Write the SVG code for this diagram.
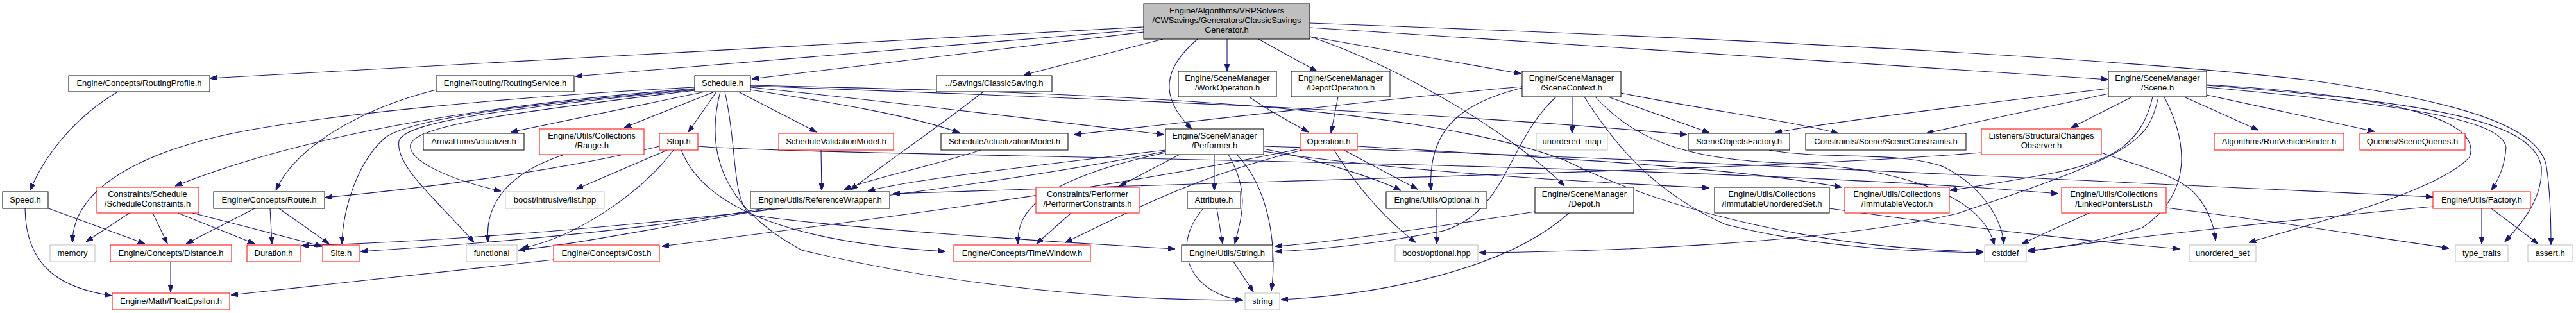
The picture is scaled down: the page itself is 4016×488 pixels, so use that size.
<svg xmlns="http://www.w3.org/2000/svg" width="4016" height="488" viewBox="0 0 4016 488">
<style>
text{font-family:"Liberation Sans",Arial,Helvetica,sans-serif;font-size:13px;text-anchor:middle;fill:#000}
.nd rect{fill:#fff;stroke:#000;stroke-width:1}
.rd rect{fill:#fff;stroke:#ff0000;stroke-width:1}
.gy rect{fill:#fff;stroke:#bfbfbf;stroke-width:1}
.rt rect{fill:#bfbfbf;stroke:#000;stroke-width:1}
#edges path{fill:none;stroke:#191970;stroke-width:1.1;marker-end:url(#ah)}
</style>
<defs>
<marker id="ah" viewBox="0 0 11 8" refX="11" refY="4" markerWidth="11" markerHeight="8" markerUnits="userSpaceOnUse" orient="auto"><path d="M0,0L11,4L0,8z" fill="#191970" stroke="#191970"/></marker>
</defs>
<rect width="4016" height="488" fill="#fff"/>
<g id="edges">
<path d="M1783,42 L327,122"/>
<path d="M1783,46 L897,119"/>
<path d="M1783,50 L1172,123"/>
<path d="M1813,61 L1596,117"/>
<path d="M1913,61 L1913,111"/>
<path d="M1867,61 C1815,105 1805,150 1858,201"/>
<path d="M1962,61 L2053,111"/>
<path d="M2042,57 L2372,115"/>
<path d="M2042,43 L3287,124"/>
<path d="M2042,36 C2700,60 3300,90 3600,125 C3850,160 3960,200 3970,260 C3976,300 3977,340 3977,382"/>
<path d="M2042,57 C2200,110 2370,220 2439,290"/>
<path d="M1099,143 L796,206"/>
<path d="M1114,143 L973,199"/>
<path d="M1117,143 L1073,206"/>
<path d="M1151,143 L1273,206"/>
<path d="M1083,138 C800,160 500,200 273,290"/>
<path d="M1083,136 C800,150 500,180 367,207 C230,235 113,290 113,378"/>
<path d="M1083,139 C800,165 640,185 600,215 C560,250 535,320 533,380"/>
<path d="M1083,140 C780,170 630,190 622,220 C615,260 690,320 739,378"/>
<path d="M1083,141 C800,175 650,195 640,225 C635,250 700,280 781,298"/>
<path d="M1170,136 C1400,160 1650,190 1815,210"/>
<path d="M1170,140 C1300,160 1420,180 1496,207"/>
<path d="M1170,134 C1600,150 2200,170 2630,210"/>
<path d="M1170,133 C1700,145 2200,160 2440,250 C2600,330 2850,390 3092,392"/>
<path d="M1130,143 C1150,230 1140,310 1170,335 C1300,355 1650,378 1832,388"/>
<path d="M1123,143 C1100,230 1120,320 1250,390 C1500,450 1750,468 1936,468"/>
<path d="M1028,228 C900,260 700,290 507,308"/>
<path d="M1040,234 L898,295"/>
<path d="M1050,234 C1000,300 900,370 813,387"/>
<path d="M1062,234 C1100,330 1250,380 1474,392"/>
<path d="M1088,228 C1300,245 2600,250 3209,302"/>
<path d="M880,241 C790,270 755,320 761,378"/>
<path d="M680,140 C560,170 460,230 430,297"/>
<path d="M184,143 C120,180 70,240 47,297"/>
<path d="M73,324 L226,380"/>
<path d="M39,325 C40,420 100,450 174,461"/>
<path d="M202,332 L134,377"/>
<path d="M238,332 L261,380"/>
<path d="M277,332 L397,380"/>
<path d="M300,332 L502,384"/>
<path d="M397,325 L290,380"/>
<path d="M421,325 L424,380"/>
<path d="M435,325 L513,380"/>
<path d="M266,408 L266,455"/>
<path d="M863,405 L360,460"/>
<path d="M1203,325 C1000,360 900,380 808,390"/>
<path d="M1190,325 C1000,360 750,380 562,392"/>
<path d="M1817,236 C1500,300 900,370 470,383"/>
<path d="M2027,232 C1700,300 1300,350 1032,384"/>
<path d="M1280,234 L1281,297"/>
<path d="M1529,234 C1450,260 1350,280 1316,296"/>
<path d="M1533,143 C1460,200 1400,240 1326,296"/>
<path d="M1817,234 C1600,260 1420,280 1353,298"/>
<path d="M3089,238 C2800,262 2200,275 1392,302"/>
<path d="M2373,135 C2200,150 1900,185 1674,210"/>
<path d="M1839,241 L1745,290"/>
<path d="M1893,241 L1893,297"/>
<path d="M1915,241 C1950,300 1935,340 1925,380"/>
<path d="M1928,241 C1985,300 1990,400 1982,453"/>
<path d="M1817,238 C1620,280 1585,330 1587,380"/>
<path d="M1970,232 C2060,250 2150,280 2184,297"/>
<path d="M1970,236 C2200,270 2500,285 2665,293"/>
<path d="M1970,228 C2400,240 3000,270 3793,307"/>
<path d="M1670,332 L1616,380"/>
<path d="M2080,234 C2120,300 2170,350 2207,378"/>
<path d="M2095,234 L2210,295"/>
<path d="M2116,228 C2400,245 2700,260 2871,292"/>
<path d="M2030,234 C1880,270 1780,320 1661,378"/>
<path d="M2086,151 L2075,207"/>
<path d="M1947,151 C1990,180 2020,195 2040,206"/>
<path d="M2451,151 L2451,208"/>
<path d="M2507,151 L2665,207"/>
<path d="M2527,145 C2650,170 2800,190 2866,208"/>
<path d="M2373,137 C2280,160 2225,200 2231,297"/>
<path d="M2426,151 C2350,220 2350,330 2250,360 C2150,380 2050,390 1988,392"/>
<path d="M2487,151 C2560,230 2650,250 2800,255 C2950,262 3090,300 3109,382"/>
<path d="M2470,151 C2520,230 2580,300 2690,350 C2850,390 3000,392 3092,394"/>
<path d="M2393,330 C2200,360 2050,380 1988,384"/>
<path d="M2446,332 C2350,420 2150,460 1997,467"/>
<path d="M1897,325 L1906,380"/>
<path d="M1876,325 C1820,390 1860,460 1938,468"/>
<path d="M1923,408 L1954,455"/>
<path d="M2240,325 L2240,380"/>
<path d="M2758,234 C2850,250 2960,235 3030,260 C3090,290 3120,340 3124,380"/>
<path d="M3276,238 C3320,255 3390,270 3420,300 C3440,320 3452,350 3454,375"/>
<path d="M2852,325 C3100,360 3300,380 3398,388"/>
<path d="M3257,332 L3152,380"/>
<path d="M3377,324 C3550,345 3700,370 3818,387"/>
<path d="M3869,325 L3869,380"/>
<path d="M3884,325 L3957,380"/>
<path d="M3793,322 C3600,340 3300,372 3161,392"/>
<path d="M3287,138 C3100,160 2850,190 2767,207"/>
<path d="M3287,146 C3200,165 3080,190 3003,208"/>
<path d="M3324,151 L3229,199"/>
<path d="M3405,151 L3521,203"/>
<path d="M3440,148 L3702,205"/>
<path d="M3440,136 C3700,160 3900,180 3907,230 C3905,260 3895,280 3884,297"/>
<path d="M3440,132 C3750,150 3870,190 3850,245 C3800,300 3600,350 3506,378"/>
<path d="M3440,133 C3800,160 3950,190 3962,260 C3965,310 3930,350 3905,377"/>
<path d="M3356,151 C3340,220 3300,250 3200,270 C3120,285 3070,292 3040,297"/>
<path d="M3365,151 C3350,220 3330,240 3051,333 C2850,380 2500,392 2306,394"/>
<path d="M3374,151 C3410,220 3420,300 3340,355 C3260,380 3200,388 3161,390"/>
</g>
<g id="n_root" class="rt"><rect x="1783" y="6" width="259" height="55"/><text x="1912.5" y="21">Engine/Algorithms/VRPSolvers</text><text x="1912.5" y="36">/CWSavings/Generators/ClassicSavings</text><text x="1912.5" y="51">Generator.h</text></g>
<g id="n_routingprofile" class="nd"><rect x="107" y="118" width="220" height="25"/><text x="217" y="134">Engine/Concepts/RoutingProfile.h</text></g>
<g id="n_routingservice" class="nd"><rect x="680" y="118" width="215" height="25"/><text x="787.5" y="134">Engine/Routing/RoutingService.h</text></g>
<g id="n_schedule" class="nd"><rect x="1083" y="118" width="87" height="25"/><text x="1126.5" y="134">Schedule.h</text></g>
<g id="n_classicsaving" class="nd"><rect x="1460" y="118" width="180" height="25"/><text x="1550" y="134">../Savings/ClassicSaving.h</text></g>
<g id="n_workoperation" class="nd"><rect x="1837" y="111" width="153" height="40"/><text x="1913.5" y="126">Engine/SceneManager</text><text x="1913.5" y="141">/WorkOperation.h</text></g>
<g id="n_depotoperation" class="nd"><rect x="2013" y="111" width="154" height="40"/><text x="2090" y="126">Engine/SceneManager</text><text x="2090" y="141">/DepotOperation.h</text></g>
<g id="n_scenecontext" class="nd"><rect x="2373" y="111" width="154" height="40"/><text x="2450" y="126">Engine/SceneManager</text><text x="2450" y="141">/SceneContext.h</text></g>
<g id="n_scene" class="nd"><rect x="3287" y="111" width="153" height="40"/><text x="3363.5" y="126">Engine/SceneManager</text><text x="3363.5" y="141">/Scene.h</text></g>
<g id="n_arrival" class="nd"><rect x="660" y="208" width="157" height="26"/><text x="738.5" y="225">ArrivalTimeActualizer.h</text></g>
<g id="n_range" class="rd"><rect x="841" y="201" width="163" height="40"/><text x="922.5" y="216">Engine/Utils/Collections</text><text x="922.5" y="231">/Range.h</text></g>
<g id="n_stop" class="rd"><rect x="1028" y="208" width="60" height="26"/><text x="1058" y="225">Stop.h</text></g>
<g id="n_svm" class="rd"><rect x="1214" y="208" width="179" height="26"/><text x="1303.5" y="225">ScheduleValidationModel.h</text></g>
<g id="n_sam" class="nd"><rect x="1467" y="208" width="198" height="26"/><text x="1566" y="225">ScheduleActualizationModel.h</text></g>
<g id="n_performer" class="nd"><rect x="1817" y="201" width="153" height="40"/><text x="1893.5" y="216">Engine/SceneManager</text><text x="1893.5" y="231">/Performer.h</text></g>
<g id="n_operation" class="rd"><rect x="2027" y="208" width="89" height="26"/><text x="2071.5" y="225">Operation.h</text></g>
<g id="n_unordered_map" class="gy"><rect x="2395" y="208" width="111" height="26"/><text x="2450.5" y="225">unordered_map</text></g>
<g id="n_sof" class="nd"><rect x="2632" y="208" width="158" height="26"/><text x="2711" y="225">SceneObjectsFactory.h</text></g>
<g id="n_sceneconstraints" class="nd"><rect x="2815" y="208" width="250" height="26"/><text x="2940" y="225">Constraints/Scene/SceneConstraints.h</text></g>
<g id="n_sco" class="rd"><rect x="3089" y="201" width="187" height="40"/><text x="3182.5" y="216">Listeners/StructuralChanges</text><text x="3182.5" y="231">Observer.h</text></g>
<g id="n_rvb" class="rd"><rect x="3452" y="208" width="202" height="26"/><text x="3553" y="225">Algorithms/RunVehicleBinder.h</text></g>
<g id="n_sq" class="rd"><rect x="3679" y="208" width="164" height="26"/><text x="3761" y="225">Queries/SceneQueries.h</text></g>
<g id="n_speed" class="nd"><rect x="4" y="299" width="71" height="26"/><text x="39.5" y="316">Speed.h</text></g>
<g id="n_schedconstraints" class="rd"><rect x="151" y="292" width="159" height="40"/><text x="230" y="307">Constraints/Schedule</text><text x="230" y="322">/ScheduleConstraints.h</text></g>
<g id="n_route" class="nd"><rect x="333" y="299" width="173" height="26"/><text x="419.5" y="316">Engine/Concepts/Route.h</text></g>
<g id="n_intrusive" class="gy"><rect x="788" y="299" width="154" height="26"/><text x="865" y="316">boost/intrusive/list.hpp</text></g>
<g id="n_refwrapper" class="nd"><rect x="1170" y="299" width="217" height="26"/><text x="1278.5" y="316">Engine/Utils/ReferenceWrapper.h</text></g>
<g id="n_perfconstraints" class="rd"><rect x="1615" y="292" width="161" height="40"/><text x="1695.5" y="307">Constraints/Performer</text><text x="1695.5" y="322">/PerformerConstraints.h</text></g>
<g id="n_attribute" class="nd"><rect x="1851" y="299" width="83" height="26"/><text x="1892.5" y="316">Attribute.h</text></g>
<g id="n_optional" class="nd"><rect x="2161" y="299" width="157" height="26"/><text x="2239.5" y="316">Engine/Utils/Optional.h</text></g>
<g id="n_depot" class="nd"><rect x="2393" y="292" width="154" height="40"/><text x="2470" y="307">Engine/SceneManager</text><text x="2470" y="322">/Depot.h</text></g>
<g id="n_ius" class="nd"><rect x="2673" y="292" width="179" height="40"/><text x="2762.5" y="307">Engine/Utils/Collections</text><text x="2762.5" y="322">/ImmutableUnorderedSet.h</text></g>
<g id="n_iv" class="rd"><rect x="2876" y="292" width="163" height="40"/><text x="2957.5" y="307">Engine/Utils/Collections</text><text x="2957.5" y="322">/ImmutableVector.h</text></g>
<g id="n_lpl" class="rd"><rect x="3214" y="292" width="163" height="40"/><text x="3295.5" y="307">Engine/Utils/Collections</text><text x="3295.5" y="322">/LinkedPointersList.h</text></g>
<g id="n_factory" class="rd"><rect x="3793" y="299" width="152" height="26"/><text x="3869" y="316">Engine/Utils/Factory.h</text></g>
<g id="n_memory" class="gy"><rect x="78" y="382" width="70" height="26"/><text x="113" y="399">memory</text></g>
<g id="n_distance" class="rd"><rect x="172" y="382" width="189" height="26"/><text x="266.5" y="399">Engine/Concepts/Distance.h</text></g>
<g id="n_duration" class="rd"><rect x="385" y="382" width="83" height="26"/><text x="426.5" y="399">Duration.h</text></g>
<g id="n_site" class="rd"><rect x="503" y="382" width="57" height="26"/><text x="531.5" y="399">Site.h</text></g>
<g id="n_functional" class="gy"><rect x="727" y="382" width="79" height="26"/><text x="766.5" y="399">functional</text></g>
<g id="n_cost" class="rd"><rect x="863" y="382" width="165" height="26"/><text x="945.5" y="399">Engine/Concepts/Cost.h</text></g>
<g id="n_timewindow" class="rd"><rect x="1487" y="382" width="213" height="26"/><text x="1593.5" y="399">Engine/Concepts/TimeWindow.h</text></g>
<g id="n_string_h" class="nd"><rect x="1842" y="382" width="142" height="26"/><text x="1913" y="399">Engine/Utils/String.h</text></g>
<g id="n_boost_optional" class="gy"><rect x="2175" y="382" width="129" height="26"/><text x="2239.5" y="399">boost/optional.hpp</text></g>
<g id="n_cstddef" class="gy"><rect x="3094" y="382" width="65" height="26"/><text x="3126.5" y="399">cstddef</text></g>
<g id="n_unordered_set" class="gy"><rect x="3413" y="382" width="104" height="26"/><text x="3465" y="399">unordered_set</text></g>
<g id="n_type_traits" class="gy"><rect x="3828" y="382" width="82" height="26"/><text x="3869" y="399">type_traits</text></g>
<g id="n_assert" class="gy"><rect x="3941" y="382" width="69" height="26"/><text x="3975.5" y="399">assert.h</text></g>
<g id="n_floatepsilon" class="rd"><rect x="175" y="457" width="183" height="26"/><text x="266.5" y="474">Engine/Math/FloatEpsilon.h</text></g>
<g id="n_string" class="gy"><rect x="1941" y="457" width="54" height="26"/><text x="1968" y="474">string</text></g>
</svg>
